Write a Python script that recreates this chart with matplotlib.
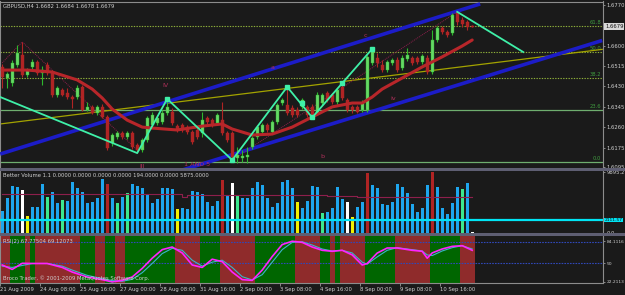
import matplotlib
matplotlib.use("Agg")
import matplotlib.pyplot as plt
from matplotlib.patches import Rectangle
import numpy as np

plt.rcParams['font.family'] = ['DejaVu Sans']

# ---------------- data ----------------
title_text = "GBPUSD,H4 1.6682 1.6684 1.6678 1.6679"
vol_text = "Better Volume 1.1 0.0000 0.0000 0.0000 0.0000 194.0000 0.0000 5875.0000"
rsi_text = "RSI(2) 67.77504 69.12073"
copyright_text = "Broco Trader, \u00a9 2001-2009 MetaQuotes Software Corp."

opens = [1.6511, 1.6465, 1.6444, 1.6519, 1.6561, 1.6478, 1.6511, 1.6532, 1.6486, 1.6519,
         1.6490, 1.6394, 1.6415, 1.6403, 1.6386, 1.6386, 1.6428, 1.6332, 1.6345, 1.6320,
         1.6345, 1.6303, 1.6195, 1.6220, 1.6236, 1.6220, 1.6236, 1.6186, 1.6166, 1.6207,
         1.6270, 1.6278, 1.6282, 1.6320, 1.6324, 1.6265, 1.6270, 1.6261, 1.6240, 1.6249,
         1.6236, 1.6299, 1.6290, 1.6278, 1.6290, 1.6236, 1.6236, 1.6132, 1.6132, 1.6136,
         1.6178, 1.6220, 1.6240, 1.6270, 1.6240, 1.6282, 1.6361, 1.6353, 1.6340, 1.6332,
         1.6345, 1.6345, 1.6345, 1.6320, 1.6361, 1.6403, 1.6394, 1.6365, 1.6428, 1.6374,
         1.6345, 1.6345, 1.6332, 1.6332, 1.6528, 1.6548, 1.6519, 1.6498, 1.6528, 1.6540,
         1.6507, 1.6544, 1.6548, 1.6548, 1.6532, 1.6548, 1.6490, 1.6623, 1.6673, 1.6656,
         1.6652, 1.6736, 1.6706, 1.6698, 1.6682]
highs = [1.6523, 1.6490, 1.6540, 1.6602, 1.6615, 1.6507, 1.6544, 1.6540, 1.6515, 1.6532,
         1.6498, 1.6432, 1.6424, 1.6424, 1.6394, 1.6436, 1.6436, 1.6365, 1.6353, 1.6353,
         1.6357, 1.6311, 1.6236, 1.6245, 1.6245, 1.6245, 1.6245, 1.6195, 1.6216, 1.6307,
         1.6324, 1.6311, 1.6332, 1.6378, 1.6340, 1.6274, 1.6278, 1.6270, 1.6249, 1.6257,
         1.6324, 1.6307, 1.6299, 1.6320, 1.6365, 1.6245, 1.6245, 1.6178, 1.6166, 1.6178,
         1.6224, 1.6270, 1.6278, 1.6278, 1.6290, 1.6361, 1.6382, 1.6428, 1.6353, 1.6345,
         1.6382, 1.6353, 1.6357, 1.6407, 1.6403, 1.6411, 1.6403, 1.6424, 1.6444, 1.6382,
         1.6353, 1.6353, 1.6374, 1.6561, 1.6586, 1.6569, 1.6540, 1.6540, 1.6548, 1.6553,
         1.6561, 1.6590, 1.6557, 1.6557, 1.6565, 1.6561, 1.6665, 1.6681, 1.6681, 1.6665,
         1.6736, 1.6740, 1.6719, 1.6706, 1.6684]
lows = [1.6424, 1.6424, 1.6432, 1.6511, 1.6469, 1.6469, 1.6503, 1.6478, 1.6436, 1.6478,
        1.6386, 1.6386, 1.6390, 1.6378, 1.6340, 1.6378, 1.6328, 1.6328, 1.6315, 1.6311,
        1.6299, 1.6166, 1.6182, 1.6211, 1.6211, 1.6211, 1.6170, 1.6153, 1.6157, 1.6199,
        1.6261, 1.6270, 1.6274, 1.6311, 1.6270, 1.6240, 1.6240, 1.6232, 1.6191, 1.6211,
        1.6220, 1.6274, 1.6261, 1.6270, 1.6228, 1.6199, 1.6124, 1.6111, 1.6116, 1.6111,
        1.6170, 1.6211, 1.6232, 1.6240, 1.6232, 1.6274, 1.6353, 1.6311, 1.6303, 1.6303,
        1.6336, 1.6303, 1.6299, 1.6311, 1.6353, 1.6365, 1.6357, 1.6357, 1.6374, 1.6324,
        1.6320, 1.6320, 1.6324, 1.6324, 1.6519, 1.6511, 1.6490, 1.6490, 1.6519, 1.6490,
        1.6498, 1.6536, 1.6519, 1.6523, 1.6523, 1.6482, 1.6482, 1.6615, 1.6648, 1.6636,
        1.6644, 1.6686, 1.6677, 1.6665, 1.6678]
closes = [1.6469, 1.6482, 1.6528, 1.6569, 1.6478, 1.6498, 1.6532, 1.6486, 1.6498, 1.6486,
          1.6394, 1.6424, 1.6394, 1.6386, 1.6378, 1.6424, 1.6332, 1.6345, 1.6320, 1.6345,
          1.6303, 1.6174, 1.6228, 1.6236, 1.6220, 1.6236, 1.6178, 1.6166, 1.6207, 1.6299,
          1.6311, 1.6299, 1.6320, 1.6345, 1.6278, 1.6249, 1.6249, 1.6240, 1.6199, 1.6220,
          1.6290, 1.6282, 1.6270, 1.6311, 1.6236, 1.6207, 1.6136, 1.6145, 1.6141, 1.6145,
          1.6216, 1.6261, 1.6270, 1.6249, 1.6282, 1.6353, 1.6374, 1.6320, 1.6311, 1.6311,
          1.6374, 1.6311, 1.6311, 1.6394, 1.6394, 1.6374, 1.6365, 1.6415, 1.6382, 1.6332,
          1.6332, 1.6324, 1.6361, 1.6553, 1.6582, 1.6528, 1.6498, 1.6532, 1.6540, 1.6498,
          1.6548, 1.6561, 1.6528, 1.6532, 1.6557, 1.6490, 1.6623, 1.6673, 1.6656, 1.6644,
          1.6727, 1.6698, 1.6690, 1.6677, 1.6679]

# moving average (read at selected bars)
ma_bars = [0, 5, 10, 15, 18, 20, 22, 25, 28, 30, 35, 40, 44, 46, 50, 54, 58, 62, 66,
           70, 72, 74, 76, 80, 84, 88, 92, 94]
ma_vals = [1.6498, 1.6498, 1.6490, 1.6457, 1.6419, 1.6382, 1.6336, 1.6290, 1.6261,
           1.6257, 1.6249, 1.6265, 1.6274, 1.6253, 1.6228, 1.6232, 1.6261, 1.6303,
           1.6345, 1.6361, 1.6361, 1.6386, 1.6419, 1.6465, 1.6511, 1.6553, 1.6598, 1.6623]

# zigzag
zz_bars = [-0.4, 27, 33, 46, 57, 62, 74]
zz_vals = [1.6386, 1.6153, 1.6378, 1.6124, 1.6428, 1.6301, 1.6586]
zz_mark_bars = [33, 46, 57, 60, 62, 68, 74]
zz_mark_vals = [1.6378, 1.6124, 1.6428, 1.6361, 1.6301, 1.6444, 1.6586]
tl_bars = [91, 104.2]
tl_vals = [1.6740, 1.6573]

# channel & trend lines (bar, price endpoints)
upper_ch = ([-0.4, 95.6], [1.6149, 1.6773])
lower_ch = ([30.0, 120.0], [1.6044, 1.6621])
yellow_ln = ([-0.4, 120.0], [1.6274, 1.6584])
pitch_a = ([0, 4, 27], [1.6528, 1.6615, 1.6166])
pitch_b = ([46, 91], [1.6124, 1.6740])

# fibonacci
fib_low, fib_high = 1.6116, 1.7031
fib_levels = [0.0, 23.6, 38.2, 50.0, 61.8]

# wave labels
wave_txt = ["IV", "a", "c", "iv", "b", "1 AND 5", "III"]
wave_bar = [32.6, 54.0, 72.6, 78.2, 64.0, 39.0, 28.0]
wave_val = [1.6432, 1.6510, 1.6640, 1.6378, 1.6138, 1.6104, 1.6096]

price_ticks = [1.6770, 1.6600, 1.6515, 1.6430, 1.6345, 1.6260, 1.6175, 1.6095]
current_price = 1.6679

# volume
volumes = [3586, 5705, 7661, 7498, 7009, 2771, 4238, 4238, 7987, 5868,
           6683, 4890, 5379, 5216, 8313, 7335, 6683, 4890, 5053, 5705,
           8802, 7987, 5705, 4890, 5868, 6520, 7987, 7661, 7335, 6357,
           4890, 5542, 7335, 7335, 7172, 3912, 4075, 3912, 6846, 6683,
           6357, 5053, 4401, 5216, 8639, 6031, 8150, 6194, 5705, 5705,
           7335, 8313, 7824, 5705, 4238, 4890, 8313, 8639, 7335, 5053,
           4075, 5216, 7661, 7498, 3260, 3423, 4075, 7498, 5542, 5053,
           2608, 4238, 5053, 9850, 7824, 7335, 4727, 4564, 5053, 7987,
           7498, 6520, 4727, 3423, 4075, 7824, 9895, 7498, 4075, 3097,
           4890, 7498, 7172, 8150, 194]
vol_kind = "bbbbwybbbg" "bbgbbbbbbb" "brbgbgbbbb" "bbbbbybbbb" "bbbbrbwgbb" \
           "bbbbbbbbby" "bbbbgbbbbw" "ybbrbbbbbb" "bbbbbbrbbb" "bbgbw"
vol_avg_bars = [0, 36, 37, 65, 71, 73, 94]
vol_avg_vals = [6308, 5917, 6194, 6080, 5917, 5875, 5875]
vol_level = 2111.57
vol_max_label = 9895.2

# RSI
rsi_bars = [0, 2, 4, 6, 9, 12, 14, 17, 20, 22, 24, 26, 28, 30, 32, 34, 36, 38, 40, 42,
            44, 46, 48, 50, 52, 54, 56, 58, 60, 62, 64, 66, 68, 70, 72, 73, 75, 77, 79,
            82, 84, 85, 86, 88, 90, 92, 94]
rsi_main = [47.7, 41, 50.3, 50, 50, 44, 37, 29.5, 25.5, 22, 24.4, 29.5, 42.5, 58, 71, 75,
            66, 47.7, 44, 56.5, 52.8, 37, 25.5, 24.4, 40, 60.5, 78.7, 83.8, 82, 75, 70,
            68.5, 70, 63, 47.7, 50, 65.8, 73.5, 73.5, 70, 68.5, 58, 66, 72, 76, 77, 70]
rsi_sig = [46, 44, 47, 50, 50, 46, 40, 32, 27, 24, 23, 26, 36, 50, 65, 73,
           70, 55, 46, 52, 55, 44, 30, 25, 33, 52, 71, 82, 83, 78, 72,
           69, 70, 66, 52, 49, 60, 70, 74, 71, 69, 63, 62, 69, 74, 77, 72]
zone_start = [0, 2, 5, 6, 7, 16, 19, 21, 23, 25, 28, 35, 40, 44, 51, 59, 64, 66, 67, 68, 73, 79, 86, 92]
zone_end = [1, 4, 5, 6, 15, 18, 20, 22, 24, 27, 34, 39, 43, 50, 58, 63, 65, 66, 67, 72, 78, 85, 91, 94]
zone_up = [0, 1, 0, 1, 0, 1, 0, 1, 0, 1, 1, 0, 1, 0, 1, 0, 1, 0, 1, 0, 1, 0, 1, 0]
rsi_levels = [83.0, 50.0]
rsi_tick_vals = [84.1116, 50, 22.2113]
rsi_tick_labels = ["84.1116", "50", "22.2113"]

time_labels = ["21 Aug 2009", "24 Aug 08:00", "25 Aug 16:00", "27 Aug 00:00", "28 Aug 08:00",
               "31 Aug 16:00", "2 Sep 00:00", "3 Sep 08:00", "4 Sep 16:00", "8 Sep 00:00",
               "9 Sep 08:00", "10 Sep 16:00"]
time_label_bars = [0, 8, 16, 24, 32, 40, 48, 56, 64, 72, 80, 88]

# ---------------- style ----------------
W, H = 625, 295
BG = '#1a1a1a'
TXT = '#cfcfcf'
FS = 3.8
FS_SMALL = 3.2
BULL = '#66d866'
BULL_W = '#2db82d'
BEAR = '#b02424'
MAROON = '#8e1f4c'
X_LEFT, X_RIGHT = -0.4, 120.2

fig = plt.figure(figsize=(W / 100, H / 100), dpi=100)
fig.patch.set_facecolor(BG)


def panel(top, bottom, lsize=FS):
    ax = fig.add_axes([0.2 / W, 1 - bottom / H, 603 / W, (bottom - top) / H])
    ax.set_facecolor(BG)
    ax.set_xlim(X_LEFT, X_RIGHT)
    for s in ax.spines.values():
        s.set_color('#8c8c8c')
        s.set_linewidth(0.8)
    ax.yaxis.tick_right()
    ax.tick_params(axis='y', colors='#9a9a9a', labelcolor=TXT, labelsize=lsize,
                   length=1.5, width=0.6, pad=0.8)
    ax.set_xticks([])
    return ax


# ---------------- main price panel ----------------
ax = panel(1.5, 168)
ax.set_ylim(1.6091, 1.6783)

# fibonacci levels
for lv in fib_levels:
    p = fib_low + (fib_high - fib_low) * lv / 100.0
    if lv >= 38:
        ax.axhline(p, color='#8fb03a', lw=0.8, ls=(0, (1.2, 1.2)), zorder=1)
    else:
        ax.axhline(p, color='#6fae6f', lw=0.9, zorder=1)
    ax.text(119.8, p + 0.0003, f"{lv:.1f}", color='#3f9a3f', fontsize=FS,
            ha='right', va='bottom', zorder=2)

# trend lines
ax.plot(*yellow_ln, color='#a3a300', lw=0.9, zorder=2)
ax.plot(*upper_ch, color='#1c1cc8', lw=2.6, zorder=3, solid_capstyle='butt')
ax.plot(*lower_ch, color='#1c1cc8', lw=2.6, zorder=3, solid_capstyle='butt')
ax.plot(*pitch_a, color=MAROON, lw=0.7, ls=(0, (1, 1)), zorder=3)
ax.plot(*pitch_b, color=MAROON, lw=0.7, ls=(0, (1, 1)), zorder=3)

# candles
for i in range(len(opens)):
    o, h, l, c = opens[i], highs[i], lows[i], closes[i]
    up = c >= o
    ax.vlines(i, l, h, color=BULL_W if up else BEAR, lw=0.8, zorder=4)
    lo = min(o, c)
    bh = max(abs(c - o), 0.00014)
    ax.bar(i, bh, bottom=lo, width=0.62, color=BULL if up else BEAR,
           edgecolor=BULL_W if up else BEAR, linewidth=0.3, zorder=5)

# moving average
ax.plot(ma_bars, ma_vals, color='#b8262a', lw=2.2, zorder=6, solid_capstyle='round')

# zigzag
ax.plot(zz_bars, zz_vals, color='#3ff0a8', lw=1.3, zorder=7)
ax.plot(tl_bars, tl_vals, color='#3ff0a8', lw=1.3, zorder=7)
ax.plot(zz_mark_bars, zz_mark_vals, ls='none', marker='s', ms=2.6, color='#3ff0a8', zorder=8)

for t, b, v in zip(wave_txt, wave_bar, wave_val):
    ax.text(b, v, t, color='#b0305a', fontsize=FS + 0.8, ha='center', va='center', zorder=8)

ax.set_yticks(price_ticks)
ax.set_yticklabels([f"{p:.4f}" for p in price_ticks])
ax.text(1.003, current_price, f"{current_price:.4f}", transform=ax.get_yaxis_transform(),
        fontsize=FS, color='#111111', va='center', ha='left',
        bbox=dict(boxstyle='square,pad=0.1', fc='#d8d8d8', ec='none'), clip_on=False)
ax.text(0.005, 0.985, title_text, transform=ax.transAxes, color=TXT, fontsize=FS,
        va='top', ha='left')
ax.spines['bottom'].set_visible(False)

# ---------------- volume panel ----------------
av = panel(171, 233)
av.set_ylim(0, 10106)
cmap = {'b': '#1ea6ee', 'w': '#ffffff', 'y': '#f2f200', 'g': '#3ce88e', 'r': '#b02424'}
av.bar(range(len(volumes)), volumes, width=0.6,
       color=[cmap[k] for k in vol_kind], zorder=3)
av.step(vol_avg_bars, vol_avg_vals, where='post', color=MAROON, lw=0.8, zorder=4)
av.axhline(vol_level, color='#00e4f4', lw=1.6, zorder=5)
av.set_yticks([vol_max_label, 0])
av.set_yticklabels([f"{vol_max_label:.1f}", "0.0"])
av.text(1.002, vol_level, f"{vol_level:.2f}", transform=av.get_yaxis_transform(),
        fontsize=FS_SMALL, color='#111111', va='center', ha='left',
        bbox=dict(boxstyle='square,pad=0.1', fc='#00e4f4', ec='none'), clip_on=False)
av.text(0.005, 0.96, vol_text, transform=av.transAxes, color=TXT, fontsize=FS,
        va='top', ha='left')
av.spines['top'].set_visible(False)
av.spines['bottom'].set_visible(False)

# ---------------- RSI panel ----------------
ar = panel(236, 283, lsize=FS_SMALL)
ar.set_ylim(20.4, 91.7)
for s, e, u in zip(zone_start, zone_end, zone_up):
    ar.axvspan(s - 0.5, e + 0.5, color='#006600' if u else '#8f2b2b', lw=0, zorder=1)
for lv in rsi_levels:
    ar.axhline(lv, color='#3048b8', lw=0.8, ls=(0, (1.5, 1)), zorder=2)
ar.plot(rsi_bars, rsi_sig, color='#3cb4c8', lw=0.8, zorder=3)
ar.plot(rsi_bars, rsi_main, color='#ff22ff', lw=1.2, zorder=4)
ar.set_yticks(rsi_tick_vals)
ar.set_yticklabels(rsi_tick_labels)
ar.text(0.005, 0.93, rsi_text, transform=ar.transAxes, color=TXT, fontsize=FS,
        va='top', ha='left', zorder=6)
ar.text(0.005, 0.04, copyright_text, transform=ar.transAxes, color=TXT, fontsize=FS,
        va='bottom', ha='left', zorder=6)
ar.spines['top'].set_visible(False)
ar.set_xticks([b - 0.4 for b in time_label_bars])
ar.set_xticklabels(time_labels, ha='left')
ar.tick_params(axis='x', colors='#9a9a9a', labelcolor=TXT, labelsize=FS,
               length=2, width=0.6, pad=1)

# panel separators
for y0, y1 in [(168, 171), (233, 236)]:
    fig.patches.append(Rectangle((0, 1 - y1 / H), 1, (y1 - y0) / H, transform=fig.transFigure,
                                 facecolor='#5e5e72', edgecolor='none', zorder=10))

fig.savefig("out.png", dpi=100, facecolor=BG)
